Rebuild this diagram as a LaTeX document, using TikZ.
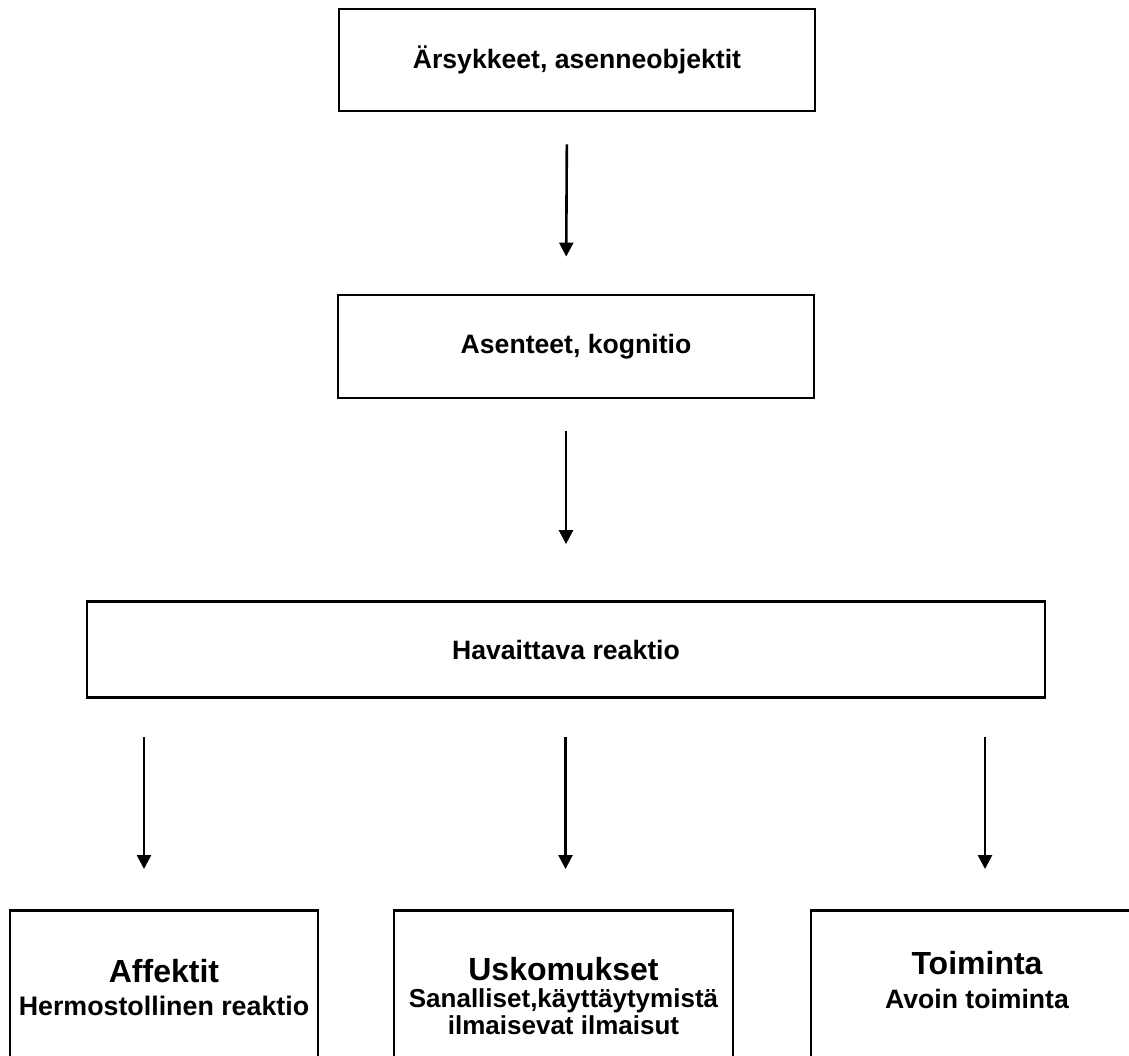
\documentclass[tikz,border=0pt]{standalone}
\usepackage{fontspec}
\setmainfont{Liberation Sans}
\usetikzlibrary{arrows.meta,positioning}
\newcommand\otsikko{\fontsize{16}{17}\selectfont}
\begin{document}
\begin{tikzpicture}[x=0.5pt, y=-0.5pt,
  box/.style={draw, line width=1.4pt, inner sep=0pt, font=\bfseries\fontsize{13.3}{16}\selectfont},
  openbox/.style={box, anchor=north, minimum height=90pt},
  txt/.style={inner sep=0pt, align=center, font=\bfseries\fontsize{13.4}{16.5}\selectfont},
  arr/.style={-{Triangle[width=7pt,length=7pt]}, line width=1.3pt}]

\useasboundingbox (0,0) rectangle (1129,1055);
\clip (0,0) rectangle (1129,1055);

\node[box, minimum width=238pt, minimum height=51pt] (stim) at (577,60) {Ärsykkeet, asenneobjektit};
\node[box, minimum width=238pt, minimum height=51.5pt] (kogn) at (576,346.5) {Asenteet, kognitio};
\node[box, minimum width=479pt, minimum height=48pt] (reakt) at (566,649.5) {Havaittava reaktio};

% alalaatikot jatkuvat kuvan alareunan yli
\node[openbox, minimum width=154pt] (affekt) at (164,909) {};
\node[openbox, minimum width=169.5pt] (usko) at (563.5,909) {};
\node[openbox, minimum width=166pt] (toimi) at (977,909) {};

\node[txt, below=25pt of affekt.north] (affekt-t) {{\otsikko Affektit}\\Hermostollinen reaktio};
\node[txt, below=24pt of usko.north, font=\bfseries\fontsize{13}{13.5}\selectfont] (usko-t)
  {{\otsikko Uskomukset}\\Sanalliset,käyttäytymistä\\ilmaisevat ilmaisut};
\node[txt, below=21pt of toimi.north, font=\bfseries\fontsize{13.3}{17}\selectfont] (toimi-t)
  {{\otsikko Toiminta}\\Avoin toiminta};

\draw[arr, shorten <=16pt, shorten >=18.5pt] ([xshift=-5pt]stim.south) -- ([xshift=-5pt]kogn.north);
\draw[arr, shorten <=16pt, shorten >=28pt] ([xshift=-5pt]kogn.south) -- (reakt.north);
\foreach \to/\dx in {affekt/-10pt, usko/1pt, toimi/4pt}
	\draw[arr, shorten <=19pt, shorten >=20pt] ([xshift=\dx]reakt.south -| \to.north) -- ([xshift=\dx]\to.north);
\end{tikzpicture}
\end{document}
